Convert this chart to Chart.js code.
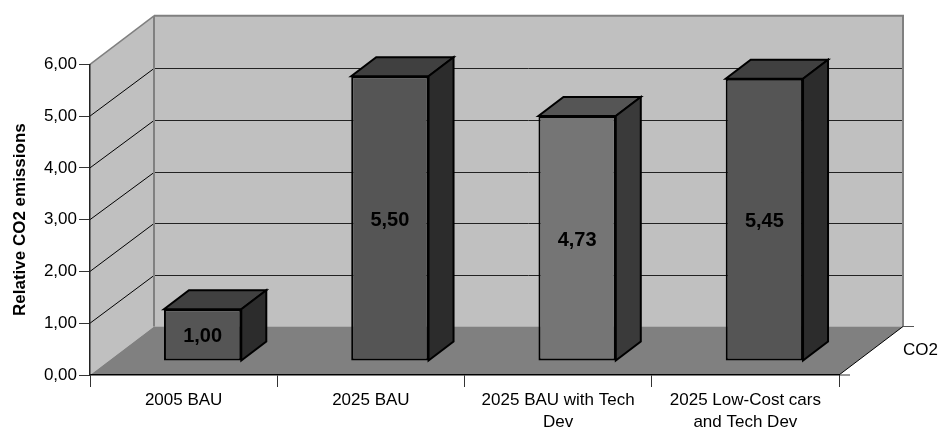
<!DOCTYPE html>
<html>
<head>
<meta charset="utf-8">
<title>Relative CO2 emissions</title>
<style>
  html, body { margin: 0; padding: 0; background: #fff; }
  canvas { display: block; }
</style>
<script src="https://cdn.jsdelivr.net/npm/chart.js@4/dist/chart.umd.min.js"></script>
</head>
<body>
<canvas id="co2Chart" width="941" height="428"></canvas>
<script>
const categories = [
  '2005 BAU',
  '2025 BAU',
  ['2025 BAU with Tech', 'Dev'],
  ['2025 Low-Cost cars', 'and Tech Dev']
];
const seriesName = 'CO2';
const co2Values = [1.00, 5.50, 4.73, 5.45];
const yMax = 6;
const yStep = 1;

// Face colours per bar
const frontFill = ['#555555', '#555555', '#757575', '#555555'];
const topFill = ['#404040', '#404040', '#555555', '#404040'];
const sideFill = ['#2c2c2c', '#2c2c2c', '#3a3a3a', '#2c2c2c'];

// Oblique projection of the chart box: full depth, gap before the bars, bar depth
const DEPTH = { x: 64, y: -48.5 };
const GAP = { x: 19, y: -14 };
const BAR = { x: 25, y: -19 };

const FONT = '"Liberation Sans", Arial, sans-serif';
const fmt = v => v.toFixed(2).replace('.', ',');

function poly(ctx, pts, fill, stroke, lw) {
  ctx.beginPath();
  pts.forEach((p, i) => (i ? ctx.lineTo(p[0], p[1]) : ctx.moveTo(p[0], p[1])));
  ctx.closePath();
  if (fill) { ctx.fillStyle = fill; ctx.fill(); }
  if (stroke) { ctx.strokeStyle = stroke; ctx.lineWidth = lw; ctx.stroke(); }
}

function line(ctx, x1, y1, x2, y2, color, lw) {
  ctx.beginPath();
  ctx.moveTo(x1, y1);
  ctx.lineTo(x2, y2);
  ctx.strokeStyle = color;
  ctx.lineWidth = lw;
  ctx.stroke();
}

// Walls, floor and gridlines behind the bars
const boxPlugin = {
  id: 'box3d',
  beforeDraw(chart) {
    const { ctx, chartArea: a, scales } = chart;
    const dx = DEPTH.x, dy = DEPTH.y;
    ctx.save();
    poly(ctx, [[a.left + dx, a.top + dy], [a.right + dx, a.top + dy], [a.right + dx, a.bottom + dy], [a.left + dx, a.bottom + dy]], '#c0c0c0');
    poly(ctx, [[a.left, a.top], [a.left + dx, a.top + dy], [a.left + dx, a.bottom + dy], [a.left, a.bottom]], '#c0c0c0');
    poly(ctx, [[a.left, a.bottom], [a.right, a.bottom], [a.right + dx, a.bottom + dy], [a.left + dx, a.bottom + dy]], '#808080');

    for (let v = yStep; v < yMax; v += yStep) {
      const y = scales.y.getPixelForValue(v);
      const backY = Math.round(y + dy + 0.5) + 0.5;
      line(ctx, a.left, y, a.left + dx, backY, '#000', 1);
      line(ctx, a.left + dx, backY, a.right + dx, backY, '#222', 1);
    }

    // Wall edges
    line(ctx, a.left, a.top, a.left + dx, a.top + dy, '#808080', 1.5);
    line(ctx, a.left + dx, a.top + dy, a.right + dx + 1, a.top + dy, '#808080', 2);
    line(ctx, a.left + dx, a.top + dy, a.left + dx, a.bottom + dy, '#808080', 2);
    line(ctx, a.right + dx, a.top + dy, a.right + dx, a.bottom + dy, '#808080', 2);

    // Depth axis along the floor
    line(ctx, a.right, a.bottom, a.right + dx, a.bottom + dy, '#000', 1);
    line(ctx, a.right, a.bottom, a.right + 11, a.bottom, '#333', 1);
    line(ctx, a.right + dx, a.bottom + dy, a.right + dx + 11, a.bottom + dy, '#555', 1);

    ctx.font = '17px ' + FONT;
    ctx.fillStyle = '#000';
    ctx.textAlign = 'left';
    ctx.textBaseline = 'middle';
    ctx.fillText(seriesName, a.right + 64, a.bottom - 25);
    ctx.restore();
  },
  // Top and side faces, then shift the front face into the box
  beforeDatasetDraw(chart, args) {
    const { ctx } = chart;
    ctx.save();
    args.meta.data.forEach((bar, i) => {
      const l = bar.x - bar.width / 2 + GAP.x;
      const r = bar.x + bar.width / 2 + GAP.x;
      const t = bar.y + GAP.y;
      const b = bar.base + GAP.y;
      ctx.lineJoin = 'miter';
      poly(ctx, [[l, t], [r, t], [r + BAR.x, t + BAR.y], [l + BAR.x, t + BAR.y]], topFill[i], '#000', 2);
      poly(ctx, [[r, t], [r + BAR.x, t + BAR.y], [r + BAR.x, b + BAR.y], [r, b]], sideFill[i], '#000', 2);
    });
    ctx.restore();
    ctx.save();
    ctx.translate(GAP.x, GAP.y);
  },
  afterDatasetDraw(chart, args) {
    const { ctx } = chart;
    ctx.font = 'bold 20px ' + FONT;
    ctx.fillStyle = '#000';
    ctx.textAlign = 'center';
    ctx.textBaseline = 'middle';
    args.meta.data.forEach((bar, i) => {
      ctx.fillText(fmt(co2Values[i]), bar.x, (bar.y + bar.base) / 2 + 2);
    });
    ctx.restore();
  }
};

new Chart(document.getElementById('co2Chart'), {
  type: 'bar',
  data: {
    labels: categories,
    datasets: [{
      label: seriesName,
      data: co2Values,
      backgroundColor: frontFill,
      borderColor: '#000',
      borderWidth: 2,
      borderSkipped: false,
      barPercentage: 0.413,
      categoryPercentage: 1,
      clip: false
    }]
  },
  options: {
    responsive: false,
    animation: false,
    layout: { padding: { top: 64.3, right: 102, bottom: 0, left: 0 } },
    plugins: { legend: { display: false }, tooltip: { enabled: false } },
    scales: {
      x: {
        afterFit: s => { s.height = 53; },
        grid: { drawOnChartArea: false, color: '#333', tickLength: 12, lineWidth: 1 },
        border: { color: '#000', width: 1.5 },
        ticks: {
          color: '#000',
          maxRotation: 0,
          autoSkip: false,
          padding: 3,
          font: { family: FONT, size: 17, lineHeight: 1.25 }
        }
      },
      y: {
        min: 0,
        max: yMax,
        afterFit: s => { s.width = 90; },
        title: {
          display: true,
          text: 'Relative CO2 emissions',
          color: '#000',
          padding: { top: 10, bottom: 0 },
          font: { family: FONT, size: 17, weight: 'bold' }
        },
        grid: { drawOnChartArea: false, color: '#333', tickLength: 11, lineWidth: 1 },
        border: { color: '#222', width: 1.5 },
        ticks: {
          stepSize: yStep,
          color: '#000',
          padding: 2,
          callback: v => fmt(v),
          font: { family: FONT, size: 17 }
        }
      }
    }
  },
  plugins: [boxPlugin]
});
</script>
</body>
</html>
